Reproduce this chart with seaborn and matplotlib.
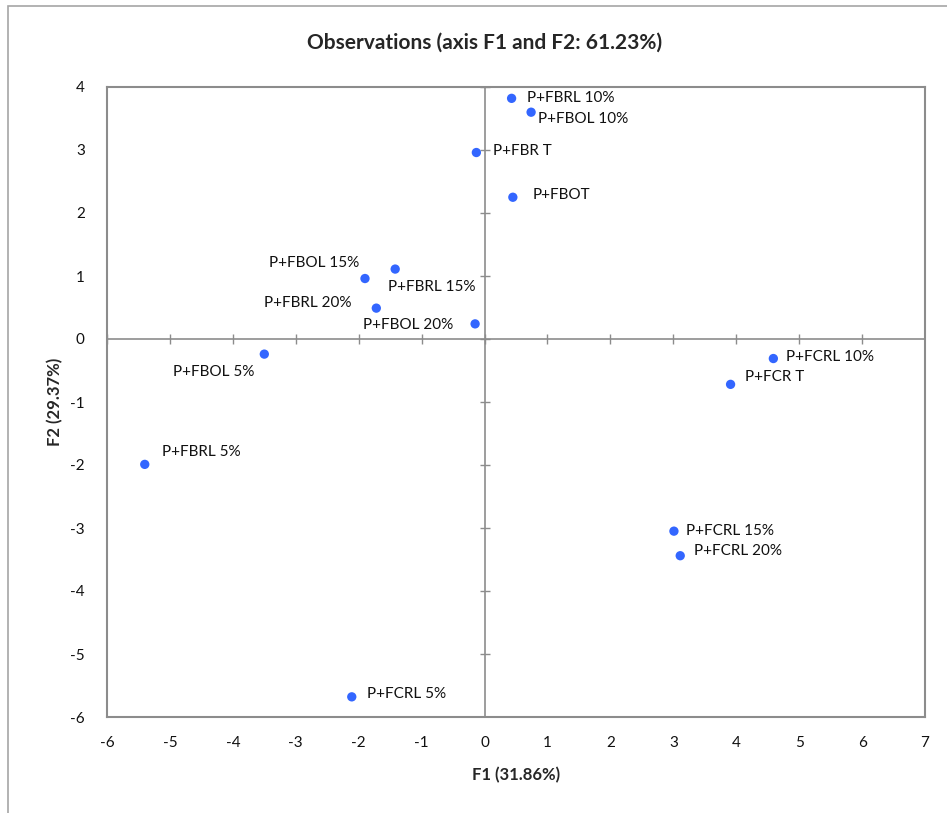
import matplotlib
matplotlib.use("Agg")
import matplotlib.pyplot as plt
import matplotlib.patches as mpatches
import seaborn as sns
import pandas as pd

labels = ["P+FBRL 10%", "P+FBOL 10%", "P+FBR T", "P+FBOT", "P+FBOL 15%",
          "P+FBRL 15%", "P+FBRL 20%", "P+FBOL 20%", "P+FBOL 5%", "P+FBRL 5%",
          "P+FCRL 10%", "P+FCR T", "P+FCRL 15%", "P+FCRL 20%", "P+FCRL 5%"]
f1 = [0.43, 0.74, -0.13, 0.45, -1.90, -1.42, -1.72, -0.15, -3.50, -5.40,
      4.59, 3.91, 3.01, 3.11, -2.11]
f2 = [3.82, 3.60, 2.96, 2.25, 0.96, 1.11, 0.49, 0.24, -0.24, -1.99,
      -0.31, -0.72, -3.05, -3.44, -5.68]
xticks = list(range(-6, 8))
yticks = list(range(-6, 5))

# label offsets in pixels (dx, dy) and horizontal alignment
offsets = [(15, 0), (7, -7), (17, 2), (20, 2), (-6, 16),
           (-7, -18), (-25, 5), (-22, -1), (-10, -18), (17, 12),
           (13, 2), (14, 7), (12, 0), (14, 5), (15, 3)]
aligns = ["left", "left", "left", "left", "right",
          "left", "right", "right", "right", "left",
          "left", "left", "left", "left", "left"]

sns.set_theme(style="white")
plt.rcParams["font.family"] = ["Lato", "DejaVu Sans"]
plt.rcParams["axes.unicode_minus"] = False

df = pd.DataFrame({"F1": f1, "F2": f2, "label": labels})

fig = plt.figure(figsize=(9.47, 8.13), dpi=100)
ax = fig.add_axes([107/947, 1-717/813, (925-107)/947, (717-87)/813])

grey = "#8c8c8c"
ax.axhline(0, color=grey, lw=1.2, zorder=1)
ax.axvline(0, color=grey, lw=1.2, zorder=1)
ax.plot(xticks, [0]*len(xticks), marker="|", markersize=7, ls="none",
        color=grey, mew=1.0, zorder=1)
ax.plot([0]*len(yticks), yticks, marker="_", markersize=7, ls="none",
        color=grey, mew=1.0, zorder=1)

sns.scatterplot(data=df, x="F1", y="F2", ax=ax, color="#3366ff", s=45,
                edgecolor="none", zorder=3, legend=False)

for lab, x, y, (dx, dy), ha in zip(labels, f1, f2, offsets, aligns):
    ax.annotate(lab, (x, y), xytext=(dx, dy), textcoords="offset pixels",
                ha=ha, va="center", fontsize=11, color="#111111")

ax.set_xlim(-6, 7)
ax.set_ylim(-6, 4)
ax.set_xticks(xticks)
ax.set_yticks(yticks)
ax.tick_params(axis="x", length=0, labelsize=11, pad=14, colors="#111111")
ax.tick_params(axis="y", length=0, labelsize=11, pad=16, colors="#111111")
for sp in ax.spines.values():
    sp.set_color(grey)
    sp.set_linewidth(1.5)
    sp.set_visible(True)

ax.set_xlabel("F1 (31.86%)", fontsize=12, fontweight="bold", labelpad=12)
ax.set_ylabel("F2 (29.37%)", fontsize=12, fontweight="bold", labelpad=5)
fig.text(485/947, 1-43/813, "Observations (axis F1 and F2: 61.23%)",
         ha="center", va="center", fontsize=15, fontweight="bold")

border = mpatches.Rectangle((8/947, -0.1), 1.2, 1.1 - 6/813, transform=fig.transFigure,
                            fill=False, edgecolor="#a6a6a6", lw=1.2)
fig.patches.append(border)

fig.savefig("out.png", dpi=100)
